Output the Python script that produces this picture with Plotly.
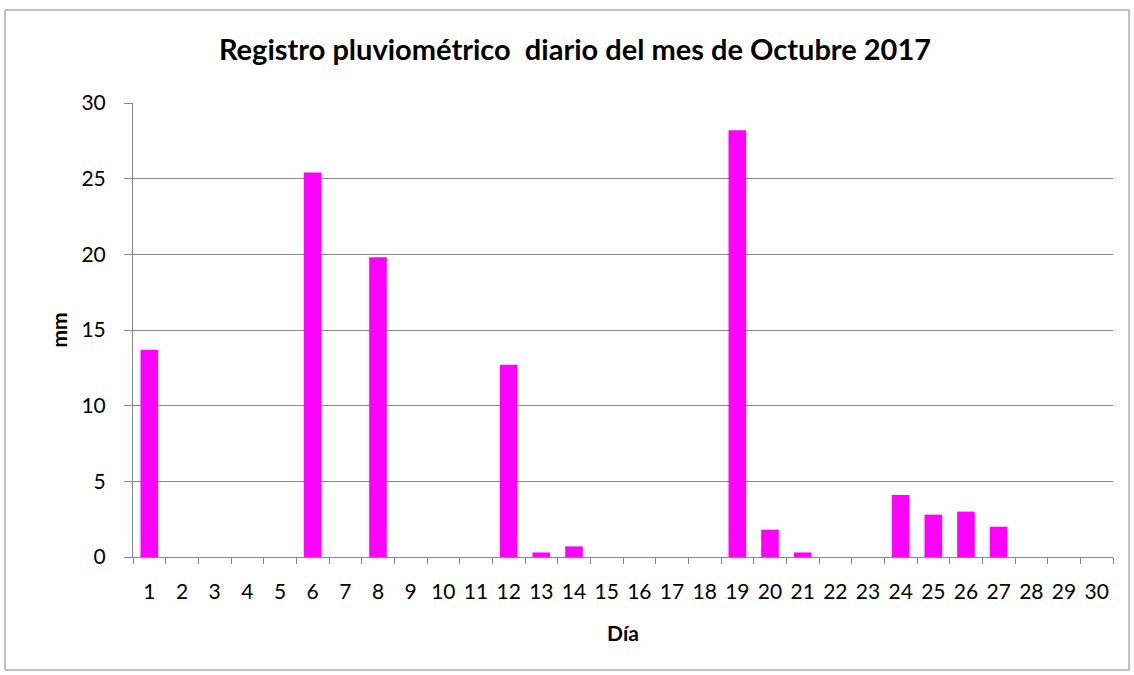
import plotly.graph_objects as go

days = [str(d) for d in range(1, 31)]
rain_mm = [13.7, 0, 0, 0, 0, 25.4, 0, 19.8, 0, 0,
           0, 12.7, 0.3, 0.7, 0, 0, 0, 0, 28.2, 1.8,
           0.3, 0, 0, 4.1, 2.8, 3.0, 2.0, 0, 0, 0]
y_ticks = [0, 5, 10, 15, 20, 25, 30]

title_text = "Registro pluviométrico  diario del mes de Octubre 2017"
x_title = "Día"
y_title = "mm"

FONT = "Lato"

fig = go.Figure(go.Bar(
    x=days, y=rain_mm,
    marker=dict(color="#FF00FF", line=dict(width=0)),
))

L, R, T, B = 133, 21, 103, 118
W, H = 1134, 675
pw, ph = W - L - R, H - T - B

fig.update_layout(
    width=W, height=H,
    margin=dict(l=L, r=R, t=T, b=B),
    paper_bgcolor="white", plot_bgcolor="white",
    bargap=0.46,
    showlegend=False,
    font=dict(family=FONT, size=21, color="black"),
    title=dict(text="<b>" + title_text + "</b>", x=575 / W, xanchor="center",
               y=1 - 50 / H, yanchor="middle",
               font=dict(family=FONT, size=29, color="black")),
    xaxis=dict(
        type="category",
        title=dict(text="<b>" + x_title + "</b>", font=dict(size=21), standoff=24),
        showline=True, linecolor="#868686", linewidth=1,
        ticks="outside", tickson="boundaries", ticklen=6, tickcolor="#868686",
        ticklabelstandoff=16, tickangle=0,
        showgrid=False,
        tickfont=dict(size=21),
    ),
    yaxis=dict(
        range=[0, 30], tickvals=y_ticks,
        title=dict(text="<b>" + y_title + "</b>", font=dict(size=21), standoff=8),
        showline=True, linecolor="#868686", linewidth=1,
        ticks="outside", ticklen=8, tickcolor="#868686",
        ticklabelstandoff=14,
        showgrid=True, gridcolor="#868686", gridwidth=1,
        zeroline=False,
        tickfont=dict(size=21),
    ),
    shapes=[dict(
        type="rect", xref="paper", yref="paper",
        x0=(5 - L) / pw, x1=(1129 - L) / pw,
        y0=(H - B - 670) / ph, y1=(H - B - 10) / ph,
        line=dict(color="#868686", width=1), fillcolor="rgba(0,0,0,0)",
        layer="below",
    )],
)

fig.write_html("out.html", config={"displayModeBar": False},
               post_script="document.body.style.margin='0';document.body.style.overflow='hidden';")
